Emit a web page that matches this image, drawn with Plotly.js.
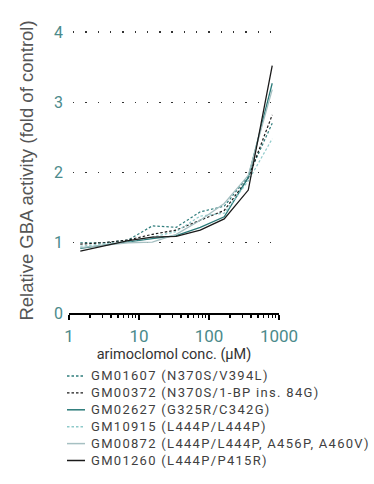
<!DOCTYPE html>
<html>
<head>
<meta charset="utf-8">
<script src="https://cdn.plot.ly/plotly-3.0.1.min.js"></script>
<style>
html,body{margin:0;padding:0;background:#fff;}
#chart{width:374px;height:484px;}
#chart .annotation-text{letter-spacing:1.3px;}
</style>
</head>
<body>
<div id="chart"></div>
<script>
// concentrations (µM)
const conc = [1.45, 3.2, 7.0, 15.5, 34, 75, 165, 364, 800];

// relative GBA activity (fold of control)
const gm01607 = [1.00, 1.00, 1.04, 1.24, 1.22, 1.44, 1.52, 1.95, 2.70];
const gm00372 = [0.98, 1.00, 1.04, 1.12, 1.18, 1.32, 1.46, 1.92, 2.82];
const gm02627 = [0.92, 0.97, 1.02, 1.06, 1.10, 1.22, 1.37, 1.93, 3.27];
const gm10915 = [0.95, 0.98, 1.02, 1.08, 1.16, 1.38, 1.42, 1.88, 2.48];
const gm00872 = [0.93, 0.96, 1.00, 1.01, 1.12, 1.32, 1.56, 1.96, 3.18];
const gm01260 = [0.88, 0.96, 1.03, 1.08, 1.09, 1.18, 1.34, 1.75, 3.52];

const seriesNames = [
  "GM01607 (N370S/V394L)",
  "GM00372 (N370S/1-BP ins. 84G)",
  "GM02627 (G325R/C342G)",
  "GM10915 (L444P/L444P)",
  "GM00872 (L444P/L444P, A456P, A460V)",
  "GM01260 (L444P/P415R)"
];
const seriesValues = [gm01607, gm00372, gm02627, gm10915, gm00872, gm01260];

const xTickVals = [1, 10, 100, 1000];
const xTickText = ["1", "10", "100", "1000"];
const yTickVals = [0, 1, 2, 3, 4];
const yTickText = ["0", "1", "2", "3", "4"];

const styles = [
  {color: "#2f7d7c", dash: "2.5px,2px", width: 1.2},
  {color: "#1a1a1a", dash: "2.5px,2px", width: 1.2},
  {color: "#2a7a79", dash: "solid", width: 1.3},
  {color: "#8ecaca", dash: "2.5px,2px", width: 1.2},
  {color: "#a6c0c2", dash: "solid", width: 1.3},
  {color: "#1a1a1a", dash: "solid", width: 1.3}
];

const traces = seriesNames.map((n, i) => ({
  type: "scatter",
  mode: "lines",
  name: n,
  x: conc,
  y: seriesValues[i],
  line: {color: styles[i].color, dash: styles[i].dash, width: styles[i].width},
  hoverinfo: "skip"
}));

const minorVals = [];
[1, 10, 100].forEach(d => { for (let k = 2; k <= 9; k++) minorVals.push(d * k); });

// figure geometry (pixels)
const W = 374, H = 484;
const M = {l: 69, r: 95, t: 28, b: 171};
const plotW = W - M.l - M.r, plotH = H - M.t - M.b;
const px2paperX = px => (px - M.l) / plotW;
const px2paperY = py => (H - M.b - py) / plotH;

// compact legend drawn as one multi-line text block with line swatches
const legFont = 13;
const legX0 = 67, legLen = 18, legTextX = 89, legY0 = 376, legDy = legFont * 1.3;
const shapes = seriesNames.map((n, i) => {
  const yy = px2paperY(legY0 + i * legDy);
  return {
    type: "line", xref: "paper", yref: "paper",
    x0: px2paperX(legX0), x1: px2paperX(legX0 + legLen), y0: yy, y1: yy,
    line: {color: styles[i].color, dash: styles[i].dash, width: styles[i].width + 0.2}
  };
});
const annotations = [{
  xref: "paper", yref: "paper",
  x: px2paperX(legTextX),
  y: px2paperY(legY0 + (seriesNames.length - 1) * legDy / 2),
  xanchor: "left", yanchor: "middle", align: "left", showarrow: false,
  text: seriesNames.join("<br>"),
  font: {family: "Roboto", size: legFont, color: "#3f3f3f"}
}];

const teal = "#4b8a8b";
const layout = {
  width: W,
  height: H,
  margin: M,
  paper_bgcolor: "#ffffff",
  plot_bgcolor: "#ffffff",
  showlegend: false,
  shapes: shapes,
  annotations: annotations,
  xaxis: {
    type: "log",
    range: [0, 3],
    tickmode: "array",
    tickvals: xTickVals,
    ticktext: xTickText,
    ticks: "outside",
    ticklen: 5,
    tickwidth: 1.5,
    tickcolor: "#000",
    showline: true,
    linecolor: "#000",
    linewidth: 2,
    showgrid: false,
    zeroline: false,
    automargin: false,
    ticklabelstandoff: 2,
    tickfont: {family: "Roboto", size: 17, color: teal},
    minor: {tickmode: "array", tickvals: minorVals, ticks: "outside", ticklen: 3, tickwidth: 1.3, tickcolor: "#000", showgrid: false},
    title: {text: "arimoclomol conc. (μM)", font: {family: "Roboto", size: 14.5, color: "#333"}, standoff: 2}
  },
  yaxis: {
    range: [0, 285 / 70.25],
    tickmode: "array",
    tickvals: yTickVals,
    ticktext: yTickText,
    ticks: "",
    showline: false,
    zeroline: false,
    showgrid: true,
    gridcolor: "#333",
    gridwidth: 1.4,
    griddash: "0px,4px,1.4px,6.9px",
    automargin: false,
    ticklabelstandoff: 5,
    tickfont: {family: "Roboto", size: 16, color: teal},
    title: {text: "Relative GBA activity (fold of control)", font: {family: "Liberation Sans", size: 18.5, color: "#555"}, standoff: 15}
  }
};

Plotly.newPlot("chart", traces, layout, {displayModeBar: false, staticPlot: true});
</script>
</body>
</html>
